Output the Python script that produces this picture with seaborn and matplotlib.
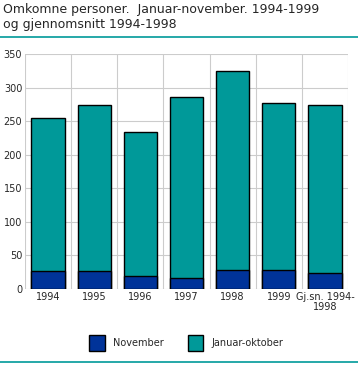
import matplotlib
matplotlib.use("Agg")
import matplotlib.pyplot as plt
import seaborn as sns
import pandas as pd
from matplotlib.patches import Patch
from matplotlib.lines import Line2D

categories = ["1994", "1995", "1996", "1997", "1998", "1999", "Gj.sn. 1994-\n1998"]
november = [27, 27, 19, 17, 29, 28, 24]
januar_oktober = [227, 247, 215, 269, 295, 249, 250]
yticks = [0, 50, 100, 150, 200, 250, 300, 350]

totals = [n + j for n, j in zip(november, januar_oktober)]
df = pd.DataFrame({"kategori": categories, "november": november, "total": totals})

sns.set_style("white")
plt.rcParams["font.family"] = ["DejaVu Sans"]

blue = "#003399"
teal = "#009999"
grid = "#cccccc"

fig = plt.figure(figsize=(3.58, 3.65), dpi=100)
ax = fig.add_axes([25/358, 76/365, 323/358, 235/365])

sns.barplot(data=df, x="kategori", y="total", color=teal, edgecolor="black",
            linewidth=1.0, width=0.72, saturation=1, ax=ax, zorder=3)
sns.barplot(data=df, x="kategori", y="november", color=blue, edgecolor="black",
            linewidth=1.0, width=0.72, saturation=1, ax=ax, zorder=4)

ax.set_xlim(-0.5, len(categories) - 0.5)
ax.set_ylim(0, 350)
ax.set_yticks(yticks)
ax.set_yticklabels([str(v) for v in yticks], fontsize=7)
ax.set_xticks(range(len(categories)))
ax.set_xticklabels(categories, fontsize=7, linespacing=1.0)
ax.set_xlabel("")
ax.set_ylabel("")
ax.tick_params(axis="both", length=0, pad=2)
for lab in ax.get_xticklabels():
    lab.set_verticalalignment("top")

for v in yticks:
    ax.axhline(v, color=grid, lw=0.8, zorder=1)
for i in range(len(categories) + 1):
    ax.axvline(i - 0.5, color=grid, lw=0.8, zorder=1)
for s in ax.spines.values():
    s.set_visible(False)

fig.text(3/358, 1 - 17/365, "Omkomne personer.  Januar-november. 1994-1999\nog gjennomsnitt 1994-1998",
         fontsize=9, va="center", ha="left", linespacing=1.15)
fig.add_artist(Line2D([0, 1], [1 - 37/365, 1 - 37/365], color=teal, lw=1.2))
fig.add_artist(Line2D([0, 1], [1 - 362/365, 1 - 362/365], color=teal, lw=1.2))

handles = [Patch(facecolor=blue, edgecolor="black", label="November"),
           Patch(facecolor=teal, edgecolor="black", label="Januar-oktober")]
fig.legend(handles=handles, loc="center", bbox_to_anchor=(0.52, 1 - 343/365), ncol=2,
           frameon=False, fontsize=7, handlelength=1.6, handleheight=2.0,
           columnspacing=2.5, handletextpad=0.8)

fig.savefig("out.png", dpi=100)
